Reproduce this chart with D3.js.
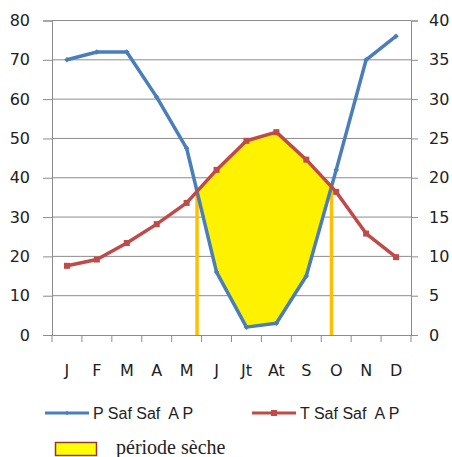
<!DOCTYPE html>
<html>
<head>
<meta charset="utf-8">
<script src="https://cdn.jsdelivr.net/npm/d3@7"></script>
<style>
  body { margin: 0; background: #fff; }
  svg { display: block; }
  text { font-family: 'DejaVu Sans', sans-serif; fill: #222; }
</style>
</head>
<body>
<svg></svg>
<script>
const width = 452
const height = 457

// data
const months = ['J', 'F', 'M', 'A', 'M ', 'J ', 'Jt', 'At', 'S', 'O', 'N', 'D']
const monthLabels = ['J', 'F', 'M', 'A', 'M', 'J', 'Jt', 'At', 'S', 'O', 'N', 'D']
const precip = [70, 72, 72, 60.5, 47.5, 16, 2, 3, 15, 42, 70, 76]
const temp = [8.8, 9.6, 11.7, 14.1, 16.8, 21, 24.7, 25.8, 22.3, 18.2, 12.9, 9.9]
const pTicks = [0, 10, 20, 30, 40, 50, 60, 70, 80]
const tTicks = [0, 5, 10, 15, 20, 25, 30, 35, 40]
const seriesNames = ['P Saf Saf  A P', 'T Saf Saf  A P']
const dryLabel = 'période sèche'

const margin = { top: 20.5, bottom: 122, left: 52, right: 41 }
const blue = '#4a7ebb'
const red = '#be4b48'
const gridColor = '#8c8c8c'

const svg = d3.select('svg').attr('width', width).attr('height', height)

/** scales */
const x = d3.scaleBand()
  .domain(months)
  .range([margin.left, width - margin.right])
const xc = d => x(d) + x.bandwidth() / 2

const yP = d3.scaleLinear()
  .domain([0, 80])
  .range([height - margin.bottom, margin.top])
const yT = d3.scaleLinear()
  .domain([0, 40])
  .range([height - margin.bottom, margin.top])

const x0 = margin.left
const x1 = width - margin.right

/** gridlines */
svg.append('g')
  .selectAll('line')
  .data(pTicks.slice(1))
  .join('line')
  .attr('x1', x0).attr('x2', x1)
  .attr('y1', d => yP(d)).attr('y2', d => yP(d))
  .attr('stroke', gridColor)

/** axes */
const leftAxis = d3.axisLeft(yP).tickValues(pTicks).tickSize(9).tickPadding(13)
const rightAxis = d3.axisRight(yT).tickValues(tTicks).tickSize(7).tickPadding(11)
const bottomAxis = d3.axisBottom(x).tickSize(0).tickPadding(30)
  .tickFormat((d, i) => monthLabels[i])

function styleAxis (g) {
  g.select('.domain').attr('stroke', gridColor)
  g.selectAll('.tick line').attr('stroke', gridColor)
  g.selectAll('.tick text')
    .attr('fill', '#222')
    .style('font-family', "'DejaVu Sans', sans-serif")
    .style('font-size', '16px')
}

svg.append('g')
  .attr('transform', `translate(${x0},0)`)
  .call(leftAxis)
  .call(styleAxis)
svg.append('g')
  .attr('transform', `translate(${x1},0)`)
  .call(rightAxis)
  .call(styleAxis)
const bx = svg.append('g')
  .attr('transform', `translate(0,${yP(0)})`)
  .call(bottomAxis)
  .call(styleAxis)

// month boundary ticks
svg.append('g')
  .selectAll('line')
  .data(months.map(m => x(m)).concat([x1]))
  .join('line')
  .attr('x1', d => d).attr('x2', d => d)
  .attr('y1', yP(0)).attr('y2', yP(0) + 7)
  .attr('stroke', gridColor)

/** dry period: where P < 2T */
const pts = months.map((m, i) => ({ x: xc(m), yp: yP(precip[i]), yt: yT(temp[i]) }))
const crossings = []
for (let i = 0; i < pts.length - 1; i++) {
  const a = pts[i].yp - pts[i].yt
  const b = pts[i + 1].yp - pts[i + 1].yt
  if ((a < 0) !== (b < 0)) {
    const t = a / (a - b)
    crossings.push({
      i,
      x: pts[i].x + t * (pts[i + 1].x - pts[i].x),
      y: pts[i].yt + t * (pts[i + 1].yt - pts[i].yt)
    })
  }
}
if (crossings.length >= 2) {
  const c0 = crossings[0]
  const c1 = crossings[1]
  const inner = pts.slice(c0.i + 1, c1.i + 1)
  const poly = [[c0.x, c0.y]]
    .concat(inner.map(p => [p.x, p.yt]))
    .concat([[c1.x, c1.y]])
    .concat(inner.slice().reverse().map(p => [p.x, p.yp]))
  svg.append('polygon')
    .attr('points', poly.map(p => p.join(',')).join(' '))
    .attr('fill', '#fff200')

  svg.append('g')
    .selectAll('line')
    .data([c0, c1])
    .join('line')
    .attr('x1', d => d.x).attr('x2', d => d.x)
    .attr('y1', d => d.y).attr('y2', yP(0))
    .attr('stroke', '#ffc000')
    .attr('stroke-width', 3.5)
}

/** lines */
const lineP = d3.line().x((d, i) => xc(months[i])).y(d => yP(d))
const lineT = d3.line().x((d, i) => xc(months[i])).y(d => yT(d))

svg.append('path')
  .datum(precip)
  .attr('d', lineP)
  .attr('fill', 'none')
  .attr('stroke', blue)
  .attr('stroke-width', 3.5)
  .attr('stroke-linejoin', 'round')

svg.append('g')
  .selectAll('path')
  .data(precip)
  .join('path')
  .attr('d', d3.symbol(d3.symbolDiamond2, 20))
  .attr('transform', (d, i) => `translate(${xc(months[i])},${yP(d)})`)
  .attr('fill', blue)

svg.append('path')
  .datum(temp)
  .attr('d', lineT)
  .attr('fill', 'none')
  .attr('stroke', red)
  .attr('stroke-width', 3.5)
  .attr('stroke-linejoin', 'round')

svg.append('g')
  .selectAll('rect')
  .data(temp)
  .join('rect')
  .attr('x', (d, i) => xc(months[i]) - 3)
  .attr('y', d => yT(d) - 3)
  .attr('width', 6)
  .attr('height', 6)
  .attr('fill', red)

/** legend */
const legend = svg.append('g')
const items = [
  { name: seriesNames[0], color: blue, lx: 45 },
  { name: seriesNames[1], color: red, lx: 252 }
]
items.forEach((it, k) => {
  legend.append('line')
    .attr('x1', it.lx).attr('x2', it.lx + 44)
    .attr('y1', 413).attr('y2', 413)
    .attr('stroke', it.color)
    .attr('stroke-width', 3)
  if (k === 0) {
    legend.append('path')
      .attr('d', d3.symbol(d3.symbolDiamond2, 14))
      .attr('transform', `translate(${it.lx + 22},413)`)
      .attr('fill', it.color)
  } else {
    legend.append('rect')
      .attr('x', it.lx + 19).attr('y', 410)
      .attr('width', 6).attr('height', 6)
      .attr('fill', it.color)
  }
  legend.append('text')
    .attr('x', it.lx + 48)
    .attr('y', 419)
    .attr('xml:space', 'preserve')
    .style('white-space', 'pre')
    .style('font-family', "'Liberation Sans', Arial, sans-serif")
    .style('font-size', '16px')
    .text(it.name)
})

legend.append('rect')
  .attr('x', 55.5).attr('y', 442.5)
  .attr('width', 41).attr('height', 13)
  .attr('fill', '#ffff00')
  .attr('stroke', '#953735')
  .attr('stroke-width', 1.5)
legend.append('text')
  .attr('x', 116)
  .attr('y', 454)
  .style('font-family', "'Liberation Serif', 'Times New Roman', serif")
  .style('font-size', '20px')
  .attr('fill', '#111')
  .text(dryLabel)
</script>
</body>
</html>
